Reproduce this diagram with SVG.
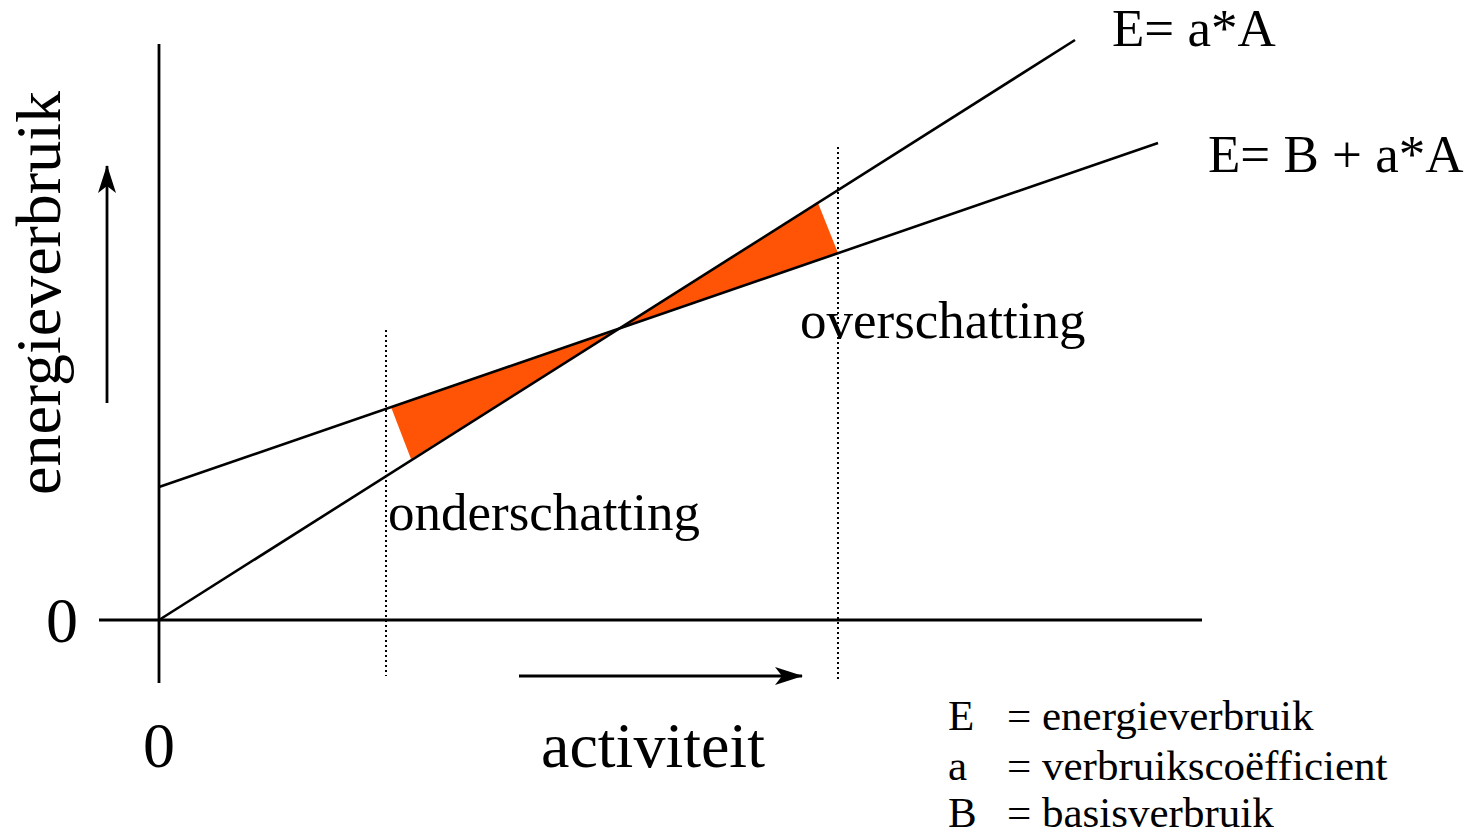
<svg xmlns="http://www.w3.org/2000/svg" width="1472" height="837" viewBox="0 0 1472 837">
<style>
text{font-family:"Liberation Serif","Times New Roman",serif;fill:#000}
.big{font-size:64px}
.mid{font-size:53px}
.leg{font-size:43px}
.ax{stroke:#000;stroke-width:2.8;fill:none}
.ln{stroke:#000;stroke-width:2.6;fill:none}
.dot{stroke:#000;stroke-width:2;stroke-dasharray:2 3;fill:none}
.fill{fill:#ff5305;stroke:none}
</style>
<defs>
<marker id="ah" markerUnits="userSpaceOnUse" viewBox="-1 -10 30 20" markerWidth="30" markerHeight="20" refX="27" refY="0" orient="auto">
<path d="M0,-9 L28,0 L0,9 L7,0 Z" fill="#000"/>
</marker>
</defs>
<rect width="1472" height="837" fill="#fff"/>
<g id="areas">
<polygon class="fill" points="391,407 617,330 411,459"/>
<polygon class="fill" points="818,203 617,330 838,253"/>
</g>
<g id="connectors">
<line class="ax" x1="159" y1="44" x2="159" y2="683"/>
<line class="ax" x1="99" y1="620" x2="1202" y2="620"/>
<line class="ln" x1="159" y1="620" x2="1075" y2="40"/>
<line class="ln" x1="159" y1="487" x2="1158" y2="143"/>
<line class="dot" x1="386" y1="330" x2="386" y2="676"/>
<line class="dot" x1="838" y1="147" x2="838" y2="679"/>
<line class="ax" x1="107" y1="403" x2="107" y2="166" marker-end="url(#ah)"/>
<line class="ax" x1="519" y1="676" x2="802" y2="676" marker-end="url(#ah)"/>
</g>
<g id="ylabel"><text class="big" transform="translate(60,495) rotate(-90)">energieverbruik</text></g>
<g id="xlabel"><text class="big" x="541" y="767">activiteit</text></g>
<g id="zero-x"><text class="big" x="143" y="767">0</text></g>
<g id="zero-y"><text class="big" x="46" y="642">0</text></g>
<g id="under"><text class="mid" x="388" y="530">onderschatting</text></g>
<g id="over"><text class="mid" x="800" y="338">overschatting</text></g>
<g id="eq1"><text class="mid" x="1112" y="46">E= a*A</text></g>
<g id="eq2"><text class="mid" x="1208" y="172">E= B + a*A</text></g>
<g id="legend">
<text class="leg" x="948" y="730">E</text><text class="leg" x="1007" y="730">= energieverbruik</text>
<text class="leg" x="948" y="780">a</text><text class="leg" x="1007" y="780">= verbruikscoëfficient</text>
<text class="leg" x="948" y="827">B</text><text class="leg" x="1007" y="827">= basisverbruik</text>
</g>
</svg>
